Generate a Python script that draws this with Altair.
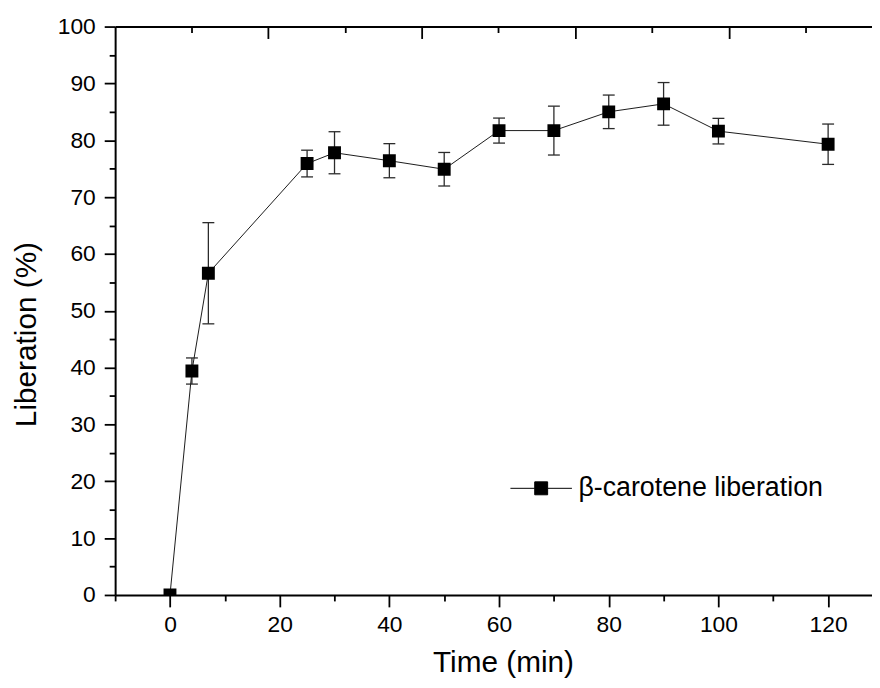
import altair as alt
import pandas as pd

# ---- data ----
time_min = [0, 4, 7, 25, 30, 40, 50, 60, 70, 80, 90, 100, 120]
liberation = [0.0, 39.4, 56.6, 75.9, 77.8, 76.4, 74.9, 81.7, 81.7, 85.0, 86.4, 81.6, 79.3]
error = [0.0, 2.3, 8.9, 2.35, 3.7, 3.0, 2.95, 2.2, 4.3, 2.95, 3.75, 2.25, 3.55]
series_name = "β-carotene liberation"

x_domain = [-10, 128]
y_domain = [0, 100]
x_major_ticks = [0, 20, 40, 60, 80, 100, 120]
x_minor_ticks = [-10, 10, 30, 50, 70, 90, 110]
y_major_ticks = [0, 10, 20, 30, 40, 50, 60, 70, 80, 90, 100]
y_minor_ticks = [5, 15, 25, 35, 45, 55, 65, 75, 85, 95]
top_major_pos = [17.9, 45.9, 73.9, 101.9]
top_minor_pos = [3.9, 31.9, 59.9, 87.9, 115.9]

df = pd.DataFrame({
    "time": time_min,
    "liberation": liberation,
    "err": error,
    "series": [series_name] * len(time_min),
})
df["lo"] = df["liberation"] - df["err"]
df["hi"] = df["liberation"] + df["err"]
df_err = df[df["err"] > 0]

FONT = "Liberation Sans"
xs = alt.Scale(domain=x_domain, nice=False, zero=False)
ys = alt.Scale(domain=y_domain, nice=False, zero=False)

ERR_COLOR = "#2b2b2b"

# error bar stems (this layer also carries the top frame line)
err_rule = alt.Chart(df_err).mark_rule(color=ERR_COLOR, strokeWidth=1.3).encode(
    x=alt.X("time:Q", scale=xs, axis=alt.Axis(
        orient="top", ticks=False, labels=False, domain=True, domainWidth=2,
        domainColor="black", grid=False, title=None)),
    y=alt.Y("lo:Q", scale=ys, axis=None),
    y2="hi:Q",
)
# lower caps (carry the long inward top ticks)
cap_lo = alt.Chart(df_err).mark_tick(orient="horizontal", size=12, thickness=1.3, color=ERR_COLOR, opacity=1).encode(
    x=alt.X("time:Q", scale=xs, axis=alt.Axis(
        orient="top", values=top_major_pos, offset=-12, tickSize=12, tickWidth=1.8,
        tickColor="black", labels=False, domain=False, grid=False, title=None)),
    y=alt.Y("lo:Q", scale=ys, axis=None),
)
# upper caps (carry the short inward top ticks)
cap_hi = alt.Chart(df_err).mark_tick(orient="horizontal", size=12, thickness=1.3, color=ERR_COLOR, opacity=1).encode(
    x=alt.X("time:Q", scale=xs, axis=alt.Axis(
        orient="top", values=top_minor_pos, offset=-6, tickSize=6, tickWidth=1.8,
        tickColor="black", labels=False, domain=False, grid=False, title=None)),
    y=alt.Y("hi:Q", scale=ys, axis=None),
)

line = alt.Chart(df).mark_line(color="#1a1a1a", strokeWidth=1).encode(
    x=alt.X("time:Q", scale=xs, axis=alt.Axis(
        orient="bottom", values=x_minor_ticks, tickSize=6, tickWidth=1.8, tickColor="black",
        labels=False, domain=False, grid=False, title=None)),
    y=alt.Y("liberation:Q", scale=ys, axis=alt.Axis(
        orient="left", values=y_minor_ticks, tickSize=6, tickWidth=1.8, tickColor="black",
        labels=False, domain=False, grid=False, title=None)),
)

legend_symbol = "M-1,0H-0.21M0.21,0H1M-0.21,-0.21H0.21V0.21H-0.21Z"

points = alt.Chart(df).mark_point(shape="square", filled=True, size=169, opacity=1, clip=True).encode(
    x=alt.X("time:Q", scale=xs, axis=alt.Axis(
        orient="bottom", values=x_major_ticks, tickSize=12, tickWidth=1.8, tickColor="black",
        domainWidth=2, domainColor="black", grid=False,
        labelFont=FONT, labelFontSize=23, labelColor="black", labelPadding=7,
        labelFlush=False, labelOverlap=False,
        title="Time (min)", titleFont=FONT, titleFontSize=30, titleFontWeight="normal",
        titleColor="black", titleX=391, titleY=77, titleBaseline="alphabetic", titleAlign="center")),
    y=alt.Y("liberation:Q", scale=ys, axis=alt.Axis(
        orient="left", values=y_major_ticks, tickSize=11, tickWidth=1.8, tickColor="black",
        domainWidth=2, domainColor="black", grid=False,
        labelFont=FONT, labelFontSize=23, labelColor="black", labelPadding=9,
        labelFlush=False, labelOverlap=False,
        title="Liberation (%)", titleFont=FONT, titleFontSize=30, titleFontWeight="normal",
        titleColor="black", titleX=-89, titleY=310, titleAngle=270,
        titleBaseline="middle", titleAlign="center")),
    color=alt.Color("series:N", scale=alt.Scale(range=["black"]), legend=alt.Legend(
        title=None, orient="none", legendX=398, legendY=434,
        symbolType=legend_symbol, symbolSize=3844, symbolStrokeWidth=1,
        symbolStrokeColor="black", symbolFillColor="black",
        labelFont=FONT, labelFontSize=27, labelColor="black", labelOffset=6,
        labelLimit=0, padding=0)),
)

chart = alt.layer(err_rule, cap_lo, cap_hi, line, points).resolve_axis(
    x="independent", y="independent"
).properties(
    width=763,
    height=573,
    padding={"left": 108, "top": 16, "right": 0, "bottom": 82},
    autosize=alt.AutoSizeParams(type="none"),
    background="white",
).configure_view(stroke=None)

chart.save("out.html", embed_options={"renderer": "svg", "actions": False})
